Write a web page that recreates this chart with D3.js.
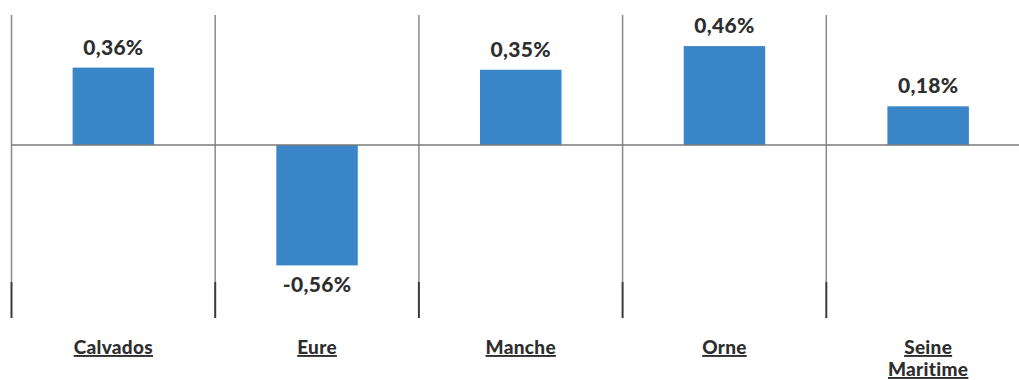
<!DOCTYPE html>
<html>
<head>
<meta charset="utf-8">
<script src="https://cdn.jsdelivr.net/npm/d3@7"></script>
<style>
  html, body { margin: 0; padding: 0; background: #fff; }
  svg { display: block; }
  text { font-family: Lato, "Open Sans", sans-serif; font-weight: 900; fill: #2e2e2e; }
</style>
</head>
<body>
<svg id="chart" width="1019" height="380"></svg>
<script>
// Evolution annuelle par département
const departements = ["Calvados", "Eure", "Manche", "Orne", "Seine Maritime"];
const labelLines = [["Calvados"], ["Eure"], ["Manche"], ["Orne"], ["Seine", "Maritime"]];
const evolution = [0.36, -0.56, 0.35, 0.46, 0.18];
const valueLabels = ["0,36%", "-0,56%", "0,35%", "0,46%", "0,18%"];

const W = 1019, H = 380;
const svg = d3.select("#chart");

const bandStep = 203.7;
const x = d3.scaleBand()
  .domain(departements)
  .range([11.5, 11.5 + bandStep * departements.length])
  .paddingInner(0.6)
  .paddingOuter(0.3);

const y = d3.scaleLinear()
  .domain([-0.6, 0.6])
  .range([145 + 0.6 * 215, 145 - 0.6 * 215]);

// category separators
const sepX = departements.map(d => x(d) - x.step() * x.paddingOuter());
const grid = svg.append("g");
grid.selectAll("line.sep")
  .data(sepX)
  .join("line")
  .attr("class", "sep")
  .attr("x1", d => d).attr("x2", d => d)
  .attr("y1", 15).attr("y2", 282)
  .attr("stroke", "#8a8a8a").attr("stroke-width", 1.5);
grid.selectAll("line.sepfoot")
  .data(sepX)
  .join("line")
  .attr("class", "sepfoot")
  .attr("x1", d => d).attr("x2", d => d)
  .attr("y1", 282).attr("y2", 318)
  .attr("stroke", "#3a3a3a").attr("stroke-width", 2);

// bars
svg.append("g").selectAll("rect")
  .data(departements)
  .join("rect")
  .attr("x", d => x(d))
  .attr("width", x.bandwidth())
  .attr("y", (d, i) => y(Math.max(0, evolution[i])))
  .attr("height", (d, i) => Math.abs(y(evolution[i]) - y(0)))
  .attr("fill", "#3b86c8");

// zero axis
svg.append("line")
  .attr("x1", sepX[0]).attr("x2", W)
  .attr("y1", y(0)).attr("y2", y(0))
  .attr("stroke", "#7a7a7a").attr("stroke-width", 1.5);

// value labels
svg.append("g").selectAll("text")
  .data(departements)
  .join("text")
  .attr("x", d => x(d) + x.bandwidth() / 2)
  .attr("y", (d, i) => evolution[i] >= 0 ? y(evolution[i]) - 13 : y(evolution[i]) + 27)
  .attr("text-anchor", "middle")
  .style("font-size", "21px")
  .style("letter-spacing", "0.3px")
  .text((d, i) => valueLabels[i]);

// category labels
const cat = svg.append("g").selectAll("text")
  .data(departements)
  .join("text")
  .attr("x", d => x(d) + x.bandwidth() / 2)
  .attr("y", 354)
  .attr("text-anchor", "middle")
  .style("font-size", "19px")
  .style("letter-spacing", "0.3px")
  .style("text-decoration", "underline");
cat.each(function(d, i) {
  d3.select(this).selectAll("tspan")
    .data(labelLines[i])
    .join("tspan")
    .attr("x", x(d) + x.bandwidth() / 2)
    .attr("dy", (t, j) => j === 0 ? 0 : 22)
    .text(t => t);
});
</script>
</body>
</html>
